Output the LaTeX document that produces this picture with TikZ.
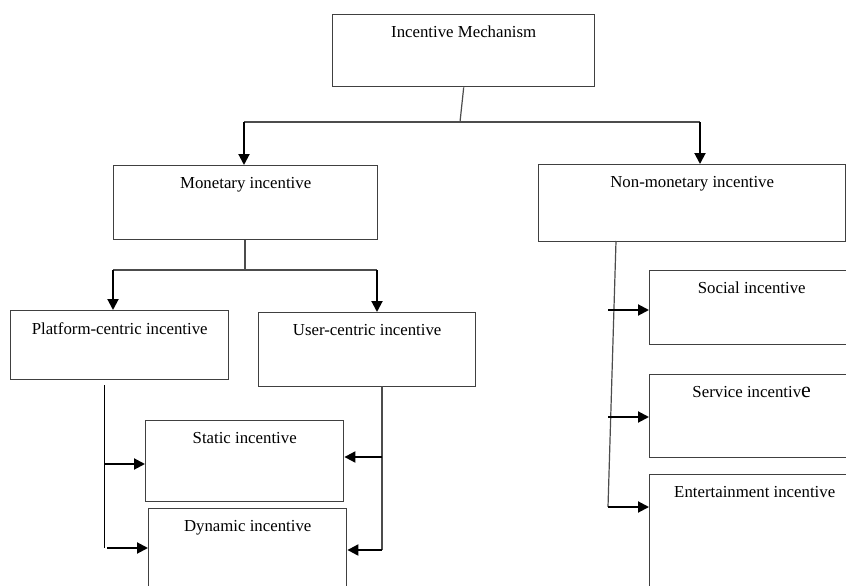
\documentclass[tikz,border=0pt]{standalone}
\usepackage{fontspec}
\setmainfont{Liberation Serif}
\usetikzlibrary{arrows.meta}
\definecolor{boxgray}{rgb}{0.25,0.25,0.25}
\definecolor{linegray}{rgb}{0.3,0.3,0.3}
\begin{document}
\begin{tikzpicture}[x=1pt,y=-1pt,
  box/.style={draw=boxgray,line width=1.4pt,anchor=north west,inner sep=0pt,fill=white},
  lbl/.style={anchor=north,yshift=-12pt,inner sep=0pt,font=\fontsize{16.8}{20}\selectfont},
  conn/.style={draw=linegray,line width=1.2pt},
  arr/.style={draw=black,line width=2pt,-{Triangle[length=11pt,width=11pt]}}]
\useasboundingbox (0,0) rectangle (846,586);
\clip (0,0) rectangle (846,586);
\fill[white] (0,0) rectangle (846,586);

% boxes
\node[box,minimum width=262pt,minimum height=72pt,label={[lbl]north:Incentive Mechanism}] (im) at (332,14) {};
\node[box,minimum width=264pt,minimum height=74pt,label={[lbl]north:Monetary incentive}] (mon) at (113,165) {};
\node[box,minimum width=307pt,minimum height=77pt,label={[lbl]north:Non-monetary incentive}] (nonmon) at (538,164) {};
\node[box,minimum width=218pt,minimum height=69pt,label={[lbl]north:Platform-centric incentive}] (plat) at (10,310) {};
\node[box,minimum width=217pt,minimum height=74pt,label={[lbl]north:User-centric incentive}] (user) at (258,312) {};
\node[box,minimum width=198pt,minimum height=81pt,label={[lbl]north:Static incentive}] (static) at (145,420) {};
\node[box,minimum width=198pt,minimum height=100pt,label={[lbl]north:Dynamic incentive}] (dyn) at (148,508) {};
\node[box,minimum width=204pt,minimum height=74pt,label={[lbl]north:Social incentive}] (social) at (649,270) {};
\node[box,minimum width=204pt,minimum height=83pt,label={[lbl]north:Service incentiv{\fontsize{22}{22}\selectfont e}}] (service) at (649,374) {};
\node[box,minimum width=210pt,minimum height=140pt,label={[lbl]north:Entertainment incentive}] (ent) at (649,474) {};

% junction coordinates
\coordinate (j0) at (460,122);
\coordinate (jl) at (244,122);
\coordinate (jr) at (700,122);
\coordinate (m0) at (245,270);
\coordinate (ml) at (113,270);
\coordinate (mr) at (377,270);
\coordinate (pl0) at (104,385);
\coordinate (pl1) at (104,464);
\coordinate (pl2) at (104,548);
\coordinate (pl3) at (107,548);
\coordinate (ur0) at (382,386);
\coordinate (ur1) at (382,457);
\coordinate (ur2) at (382,550);
\coordinate (n0) at (616,241);
\coordinate (n1) at (608,310);
\coordinate (n2) at (608,417);
\coordinate (n3) at (608,507);

% top level
\draw[conn] (im.south) -- (j0);
\draw[conn] (jl) -- (jr);
\draw[arr] (jl) -- (jl |- mon.north);
\draw[arr] (jr) -- (jr |- nonmon.north);

% monetary
\draw[conn] (mon.south -| m0) -- (m0);
\draw[conn] (ml) -- (mr);
\draw[arr] (ml) -- (ml |- plat.north);
\draw[arr] (mr) -- (mr |- user.north);

% platform-centric
\draw[conn,draw=black,line width=1pt] (pl0) -- (pl2);
\draw[arr] (pl1) -- (pl1 -| static.west);
\draw[arr] (pl3) -- (pl3 -| dyn.west);

% user-centric
\draw[conn] (ur0) -- (ur2);
\draw[arr] (ur1) -- (ur1 -| static.east);
\draw[arr] (ur2) -- (ur2 -| dyn.east);

% non-monetary
\draw[conn] (n0) -- (n3);
\draw[arr] (n1) -- (n1 -| social.west);
\draw[arr] (n2) -- (n2 -| service.west);
\draw[arr] (n3) -- (n3 -| ent.west);
\end{tikzpicture}
\end{document}
